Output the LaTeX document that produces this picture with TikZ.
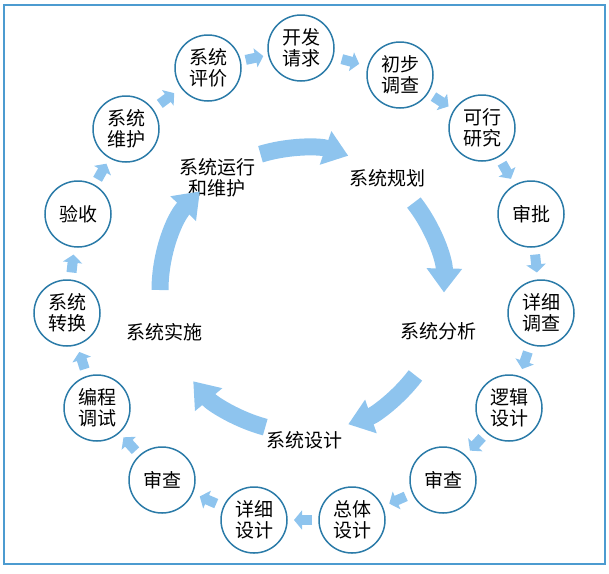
\documentclass[tikz,border=0pt]{standalone}
\usepackage{fontspec}
\setmainfont{Noto Sans CJK SC}
\usetikzlibrary{calc,arrows.meta}
\definecolor{ringblue}{HTML}{2B7BA8}
\definecolor{frameblue}{HTML}{4C9BD0}
\definecolor{arrowblue}{HTML}{8EC4EE}
\begin{document}
\begin{tikzpicture}[x=1pt,y=-1pt,
  stage/.style={circle, draw=ringblue, line width=1.5pt, minimum size=66pt, inner sep=0pt,
    align=center, font=\fontsize{19}{21}\selectfont},
  blk/.style={draw=arrowblue, line width=10pt, -{Triangle[width=19pt,length=8pt]}},
  lab/.style={font=\fontsize{19}{21}\selectfont, align=center},
  big/.style={draw=arrowblue, line width=17pt, -{Triangle[width=34pt,length=24pt]}}]
\useasboundingbox (0,0) rectangle (609,573);
\draw[frameblue, line width=2pt] (4,5) rectangle (605,564);

% outer ring of stages
\node[stage] (a1)  at (301,48)  {开发\\请求};
\node[stage] (a2)  at (400,75)  {初步\\调查};
\node[stage] (a3)  at (482,128) {可行\\研究};
\node[stage] (a4)  at (531,214) {审批};
\node[stage] (a5)  at (541,313) {详细\\调查};
\node[stage] (a6)  at (509,408) {逻辑\\设计};
\node[stage] (a7)  at (443,480) {审查};
\node[stage] (a8)  at (352,520) {总体\\设计};
\node[stage] (a9)  at (254,520) {详细\\设计};
\node[stage] (a10) at (162,480) {审查};
\node[stage] (a11) at (97,408)  {编程\\调试};
\node[stage] (a12) at (67,313)  {系统\\转换};
\node[stage] (a13) at (78,214)  {验收};
\node[stage] (a14) at (126,129) {系统\\维护};
\node[stage] (a15) at (208,68)  {系统\\评价};

\foreach \s/\t in {a1/a2,a2/a3,a3/a4,a4/a5,a5/a6,a6/a7,a7/a8,a8/a9,a9/a10,a10/a11,a11/a12,a12/a13,a13/a14,a14/a15,a15/a1}{
  \coordinate (m-\s) at ($(\s)!0.5!(\t)$);
  \draw[blk] ($(m-\s)!-9pt!(\t)$) -- ($(m-\s)!9pt!(\t)$);
}

% inner cycle
\coordinate (ctr) at (302,290);
\node[lab] (p1) at (387,178) {系统规划};
\node[lab] (p2) at (438,331) {系统分析};
\node[lab] (p3) at (304,440) {系统设计};
\node[lab] (p4) at (164,332) {系统实施};
\node[lab] (p5) at (217,178) {系统运行\\和维护};

\draw[big] (ctr) ++(-107:142) arc[start angle=-107, end angle=-71, radius=142];
\draw[big] (ctr) ++(-38:142) arc[start angle=-38, end angle=1, radius=142];
\draw[big] (ctr) ++(37:142) arc[start angle=37, end angle=71, radius=142];
\draw[big] (ctr) ++(105:142) arc[start angle=105, end angle=140, radius=142];
\draw[big] (ctr) ++(180:142) arc[start angle=180, end angle=224, radius=142];
\end{tikzpicture}
\end{document}
